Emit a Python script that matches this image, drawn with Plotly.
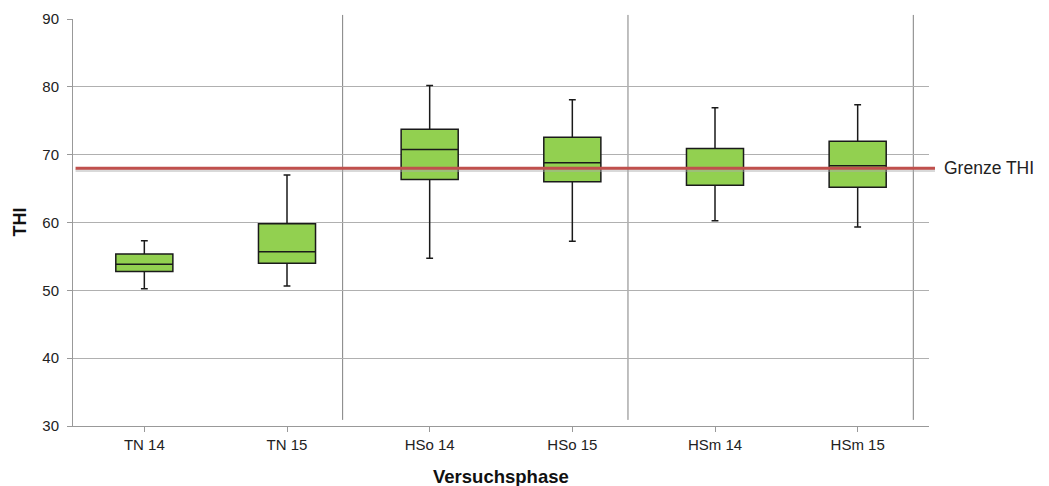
import plotly.graph_objects as go

categories = ["TN 14", "TN 15", "HSo 14", "HSo 15", "HSm 14", "HSm 15"]
lower_whisker = [50.25, 50.65, 54.73, 57.24, 60.24, 59.35]
q1_values = [52.76, 54.0, 66.33, 65.99, 65.5, 65.2]
median_values = [53.85, 55.7, 70.75, 68.79, 68.0, 68.35]
q3_values = [55.37, 59.8, 73.76, 72.58, 70.9, 71.99]
upper_whisker = [57.3, 67.0, 80.2, 78.08, 76.9, 77.35]
threshold = 68.0
threshold_label = "Grenze THI"
y_ticks = [30, 40, 50, 60, 70, 80, 90]
separator_positions = [1.39, 3.39, 5.39]

FONT = "Liberation Sans, Arial, sans-serif"

fig = go.Figure()
fig.add_trace(go.Box(
    x=list(range(len(categories))),
    q1=q1_values, median=median_values, q3=q3_values,
    lowerfence=lower_whisker, upperfence=upper_whisker,
    width=0.4, whiskerwidth=0.12,
    fillcolor="#92D050",
    line=dict(color="#1a1a1a", width=1.5),
    boxpoints=False, showlegend=False, hoverinfo="skip",
))

shapes = []
shapes.append(dict(type="line", xref="paper", yref="y", x0=0.003, x1=1.007,
                   y0=threshold - 0.35, y1=threshold - 0.35,
                   line=dict(color="rgba(170,170,170,0.45)", width=3), layer="above"))
shapes.append(dict(type="line", xref="paper", yref="y", x0=0.003, x1=1.007,
                   y0=threshold, y1=threshold,
                   line=dict(color="#C0504D", width=3), layer="above"))
for xp in separator_positions:
    shapes.append(dict(type="line", xref="x", yref="paper", x0=xp, x1=xp,
                       y0=0.015, y1=1.01,
                       line=dict(color="#808080", width=1), layer="below"))

fig.update_layout(
    width=1041, height=478,
    margin=dict(l=65, r=120, t=11, b=60, autoexpand=False),
    paper_bgcolor="white", plot_bgcolor="white",
    font=dict(family=FONT, color="#222", size=13),
    shapes=shapes,
    annotations=[
        dict(text=threshold_label, xref="paper", yref="y", x=1.015, y=threshold,
             xanchor="left", yanchor="middle", showarrow=False,
             font=dict(family=FONT, size=17.5, color="#222")),
        dict(text="<b>Versuchsphase</b>", xref="paper", yref="paper", x=0.5, y=-50 / 407,
             xanchor="center", yanchor="middle", showarrow=False,
             font=dict(family=FONT, size=18.5, color="#111")),
        dict(text="<b>THI</b>", xref="paper", yref="paper", x=-54 / 856, y=0.5,
             xanchor="center", yanchor="middle", showarrow=False, textangle=-90,
             font=dict(family=FONT, size=18, color="#111")),
    ],
    xaxis=dict(
        range=[-0.5, 5.5], tickmode="array", tickvals=list(range(len(categories))),
        ticktext=categories, showgrid=False, zeroline=False, automargin=False,
        showline=True, linecolor="#999", linewidth=1,
        ticks="outside", ticklen=5, tickcolor="#999",
        tickfont=dict(size=15, color="#222"),
    ),
    yaxis=dict(
        range=[30, 90], tickvals=y_ticks, showgrid=True, gridcolor="#b0b0b0", gridwidth=1,
        zeroline=False, showline=True, linecolor="#999", linewidth=1, automargin=False,
        ticks="outside", ticklen=5, tickcolor="#999", ticklabelstandoff=5,
        tickfont=dict(size=15, color="#222"),
    ),
)

fig.write_html(
    "out.html",
    post_script="document.documentElement.style.overflow='hidden';document.body.style.overflow='hidden';",
)
